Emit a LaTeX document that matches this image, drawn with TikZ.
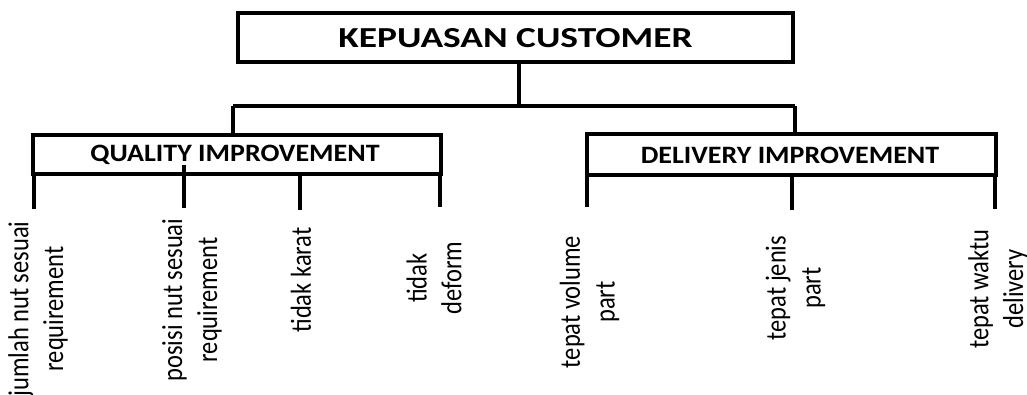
\documentclass[tikz,border=0pt]{standalone}
\usepackage{fontspec}
\setmainfont{Carlito}
\begin{document}
\begin{tikzpicture}[x=1pt,y=-1pt,
  box/.style={draw,line width=4pt,inner sep=0pt},
  conn/.style={line width=3.5pt},
  lbl/.style={rotate=90,yscale=1.18,align=center,inner sep=0pt,font=\fontsize{24.5}{29.5}\selectfont},
  titletxt/.style={xscale=1.29,font=\bfseries\fontsize{29}{34}\selectfont},
  subtxt/.style={xscale=1.12,font=\bfseries\fontsize{25}{30}\selectfont}]
\useasboundingbox (0,0) rectangle (1027,394);
% boxes
\node[box,minimum width=555pt,minimum height=49pt] (top) at (515.5,37.5) {};
\node[titletxt] (toptxt) at (515.5,38) {KEPUASAN CUSTOMER};
\node[box,minimum width=408pt,minimum height=39pt] (q) at (237,154.5) {};
\node[subtxt] (qtxt) at (235,155) {QUALITY IMPROVEMENT};
\node[box,minimum width=409pt,minimum height=41pt] (d) at (791.5,154.5) {};
\node[subtxt] (dtxt) at (790,155) {DELIVERY IMPROVEMENT};
% tree connectors
\coordinate (bar) at (519,106);
\coordinate (bl) at (233,106);
\coordinate (br) at (795,106);
\draw[conn] (top.south -| bar) -- (bar);
\draw[conn] (bl) -- (br);
\draw[conn] (bl) -- (q.north -| bl);
\draw[conn] (br) -- (d.north -| br);
% labels
\node[lbl] (l1) at (38,309) {jumlah nut sesuai\\requirement};
\node[lbl] (l2) at (192,300) {posisi nut sesuai\\requirement};
\node[lbl] (l3) at (301,280) {tidak karat};
\node[lbl] (l4) at (434,278) {tidak\\deform};
\node[lbl] (m1) at (589.5,302) {tepat volume\\part};
\node[lbl] (m2) at (795.5,288) {tepat jenis\\part};
\node[lbl] (m3) at (998,289) {tepat waktu\\delivery};
% legs
\coordinate (e1) at (34,209);
\coordinate (e2) at (184,208);
\coordinate (e3) at (300,210);
\coordinate (e4) at (440,207);
\coordinate (f1) at (587,207);
\coordinate (f2) at (792,210);
\coordinate (f3) at (995,209);
\draw[conn] (q.south -| e1) -- (e1);
\draw[conn] (184,165) -- (e2);
\draw[conn] (q.south -| e3) -- (e3);
\draw[conn] (q.south -| e4) -- (e4);
\draw[conn] (d.south -| f1) -- (f1);
\draw[conn] (d.south -| f2) -- (f2);
\draw[conn] (d.south -| f3) -- (f3);
\end{tikzpicture}
\end{document}
